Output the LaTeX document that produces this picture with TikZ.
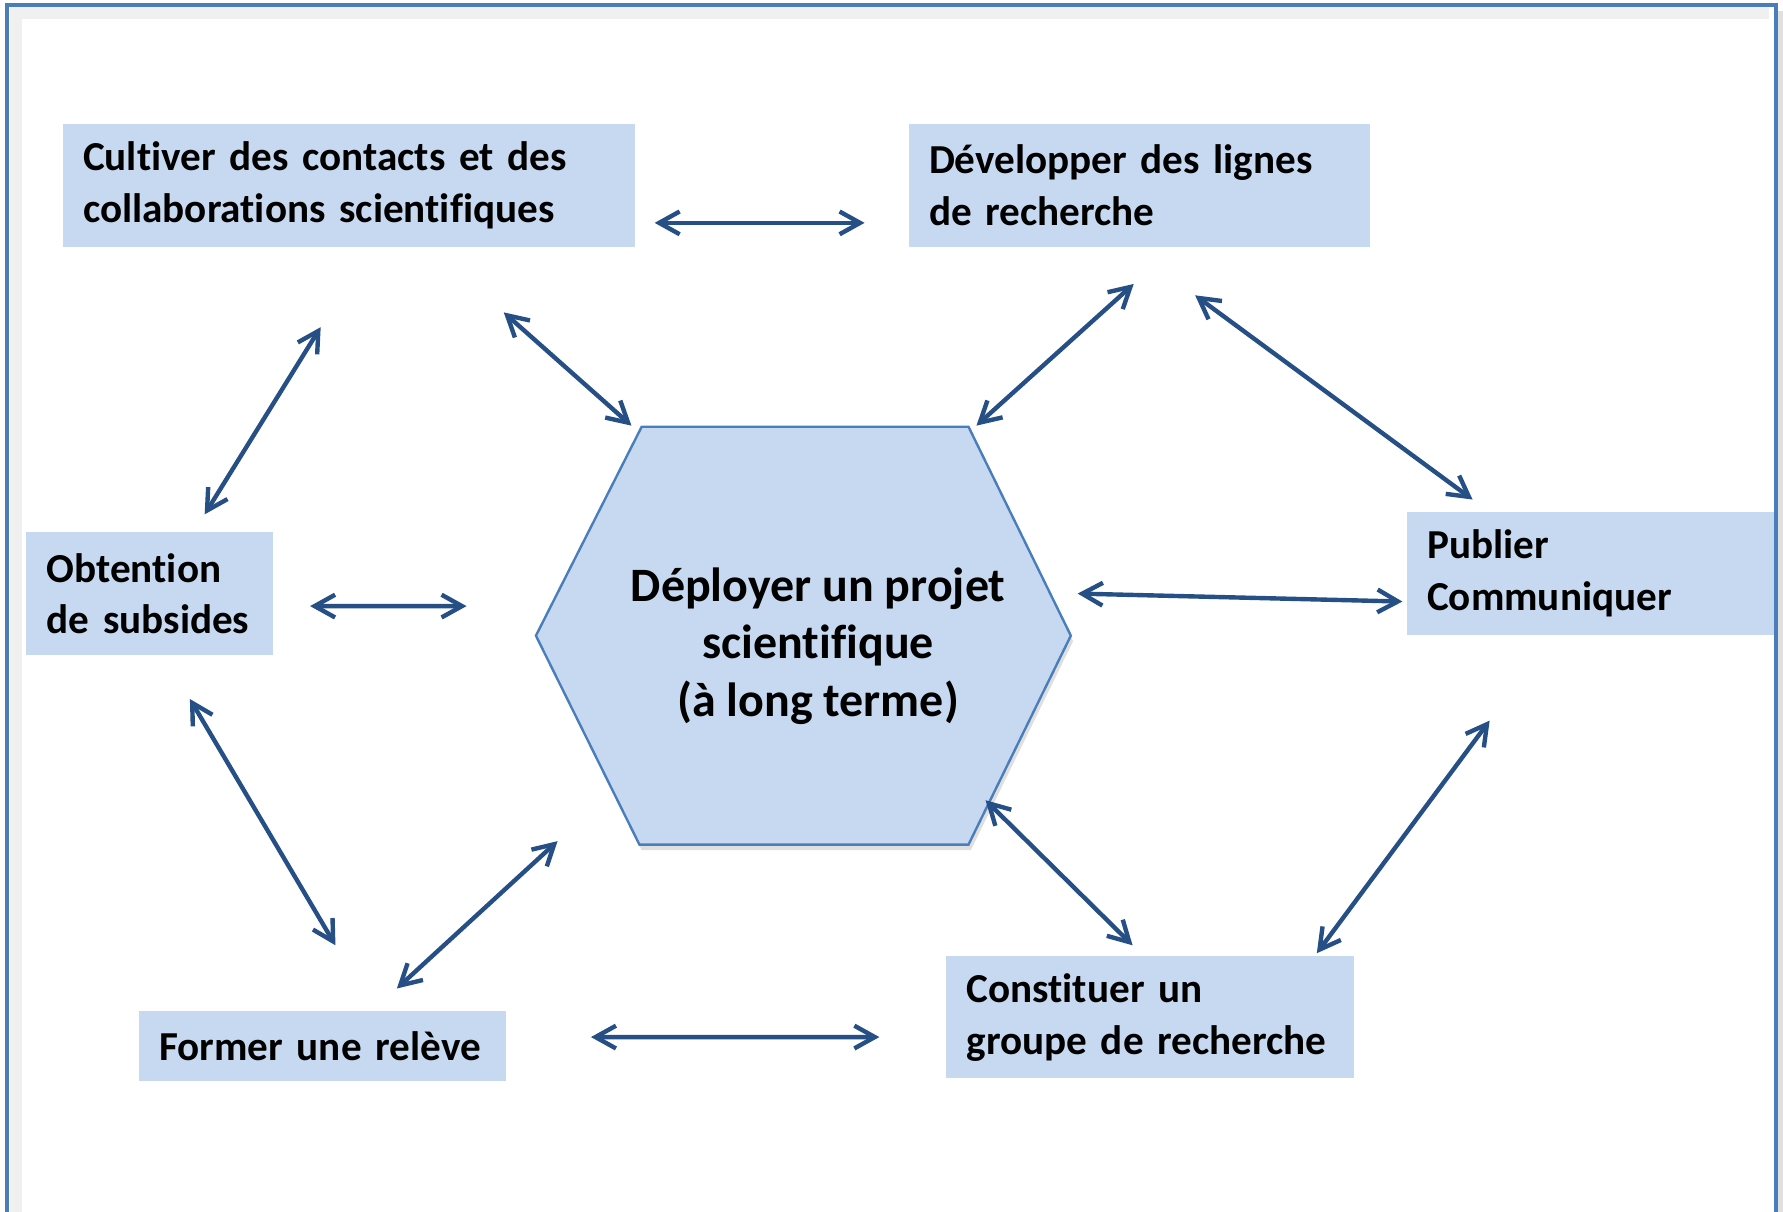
\documentclass[tikz,border=0pt]{standalone}
\usepackage{fontspec}
\setmainfont{Carlito}[Ligatures=NoCommon]
\usetikzlibrary{arrows.meta,shadows}
\definecolor{boxblue}{HTML}{C6D9F1}
\definecolor{arrowblue}{HTML}{264F86}
\definecolor{lineblue}{HTML}{4A7EBB}

\begin{document}
\begin{tikzpicture}[
  box/.style={fill=boxblue, inner xsep=0.18cm, inner ysep=0pt, align=left,
    font=\fontsize{10.3}{12.95}\selectfont\bfseries},
  link/.style={draw=arrowblue, line width=1.1pt,
    {Straight Barb[length=1.8mm,width=2mm]}-{Straight Barb[length=1.8mm,width=2mm]}}
]
\useasboundingbox (0,0) rectangle (15.68,-10.65);

% Page frame
\draw[black!6, line width=3pt] (0.14,-11) |- (15.56,-0.11);
\draw[black!12, line width=1.5pt] (15.66,-0.1) -- (15.66,-11);
\draw[lineblue, line width=1pt] (0.065,-11) |- (15.62,-0.044) -- (15.62,-11);

% Central hexagon
\node[minimum width=4.69cm, minimum height=3.66cm, inner sep=0pt] (proj) at (7.065,-5.59) {};
\draw[lineblue, fill=boxblue, line width=0.6pt,
  drop shadow={shadow xshift=0.02cm, shadow yshift=-0.05cm, opacity=0.25}]
  ([xshift=0.93cm]proj.north west) -- ([xshift=-0.90cm]proj.north east) -- (proj.east)
  -- ([xshift=-0.90cm]proj.south east) -- ([xshift=0.91cm]proj.south west) -- (proj.west) -- cycle;
\node[font=\fontsize{12}{14.4}\selectfont\bfseries, align=center] (projtext)
  at ([xshift=0.13cm,yshift=-0.09cm]proj.center) {Déployer un projet\\scientifique\\(à long terme)};

% Activity boxes
\node[box, text width=4.67cm, minimum height=1.08cm] (cult) at (3.065,-1.63) {Cultiver~des~contacts~et~des\\collaborations~scientifiques};
\node[box, text width=3.70cm, minimum height=1.08cm] (dev) at (10.02,-1.63) {Développer~des~lignes\\de~recherche};
\node[box, text width=1.81cm, minimum height=1.08cm] (obt) at (1.315,-5.22) {Obtention\\de~subsides};
\node[box, text width=2.87cm, minimum height=1.08cm] (pub) at (13.985,-5.04) {Publier\\Communiquer};
\node[box, text width=2.87cm, minimum height=0.62cm] (form) at (2.835,-9.20) {Former~une~relève};
\node[box, text width=3.23cm, minimum height=1.07cm] (cons) at (10.115,-8.945) {Constituer~un\\groupe~de~recherche};

% Connections
\draw[link] ([shift={(0.17,-0.33)}]cult.east) -- ([shift={(-0.38,-0.33)}]dev.west);
\draw[link] ([shift={(1.365,-0.57)}]cult.south) -- ([shift={(0.84,0.01)}]proj.north west);
\draw[link] ([shift={(-0.245,-0.70)}]cult.south) -- ([shift={(0.485,0.15)}]obt.north);
\draw[link] ([shift={(-0.05,-0.32)}]dev.south) -- ([shift={(-0.83,0.01)}]proj.north east);
\draw[link] ([shift={(0.49,-0.42)}]dev.south) -- ([shift={(-1.035,0.10)}]pub.north);
\draw[link] ([shift={(0.06,0.37)}]proj.east) -- ([shift={(-0.03,-0.25)}]pub.west);
\draw[link] ([shift={(0.32,-0.11)}]obt.east) -- ([shift={(-0.61,0.26)}]proj.west);
\draw[link] ([shift={(0.355,-0.38)}]obt.south) -- ([shift={(0.115,0.57)}]form.north);
\draw[link] ([shift={(0.19,0.03)}]proj.south west) -- ([shift={(0.655,0.19)}]form.north);
\draw[link] ([shift={(-0.75,0.39)}]proj.south east) -- ([shift={(-0.155,0.09)}]cons.north);
\draw[link] ([shift={(-0.885,-0.75)}]pub.south) -- ([shift={(1.465,0.02)}]cons.north);
\draw[link] ([shift={(0.74,0.08)}]form.east) -- ([shift={(-0.58,-0.175)}]cons.west);
\end{tikzpicture}
\end{document}
